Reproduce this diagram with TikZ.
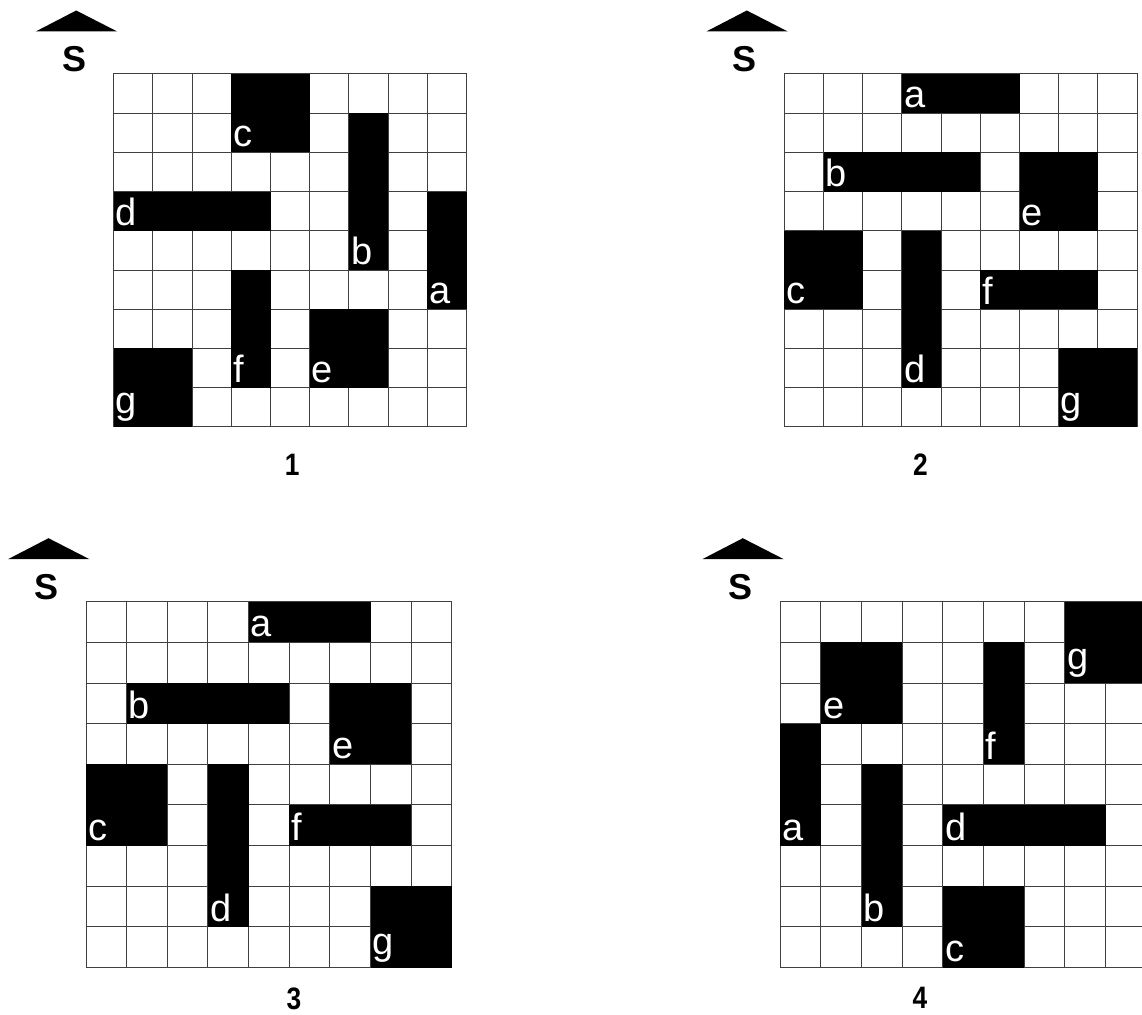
\documentclass[tikz,border=0pt]{standalone}
\usepackage{fontspec}
\setmainfont{Liberation Sans}

\begin{document}
\begin{tikzpicture}[
		x=1pt, y=-1pt,
		% Style for the cell lines and the blocked cells
		cellgrid/.style={draw=black!75, line width=1pt, line cap=rect},
		block/.style={fill=black},
		% Letter in the lower left cell of a block
		blockTag/.style={anchor=south west, inner sep=0pt, xshift=2pt, yshift=5pt,
			text=white, font=\fontsize{38}{38}\selectfont},
		% Direction mark above each grid
		pointer/.style={fill=black},
		dirLabel/.style={font=\bfseries\fontsize{36}{36}\selectfont, inner sep=0pt},
		panelNum/.style={font=\bfseries\fontsize{31}{31}\selectfont, xscale=0.85, inner sep=0pt}
		]
		\useasboundingbox (0,0) rectangle (1142,1014);

		% GRID 1
		\begin{scope}[shift={(113.7,74)}, x=39.2pt, y=-39.2pt]
			\fill[pointer] (-78pt,42.5pt) -- (-37.5pt,63.5pt) -- (3.5pt,42.5pt) -- cycle;
			\node[dirLabel] (s1) at (-39.5pt,15pt) {S};
			\foreach \k in {0,...,9} {
				\draw[cellgrid] (\k,0) -- (\k,9);
				\draw[cellgrid] (0,\k) -- (9,\k);
			}
			\foreach \cx/\ry/\bw/\bh/\lbl in {4/2/2/2/c, 7/5/1/4/b, 1/4/4/1/d, 9/6/1/3/a,
				4/8/1/3/f, 6/8/2/2/e, 1/9/2/2/g} {
				\fill[block] (\cx-1,\ry) rectangle ++(\bw,-\bh);
				\node[blockTag] (g1\lbl) at (\cx-1,\ry) {\lbl};
			}
		\end{scope}

		% GRID 2
		\begin{scope}[shift={(784.3,74)}, x=39.2pt, y=-39.2pt]
			\fill[pointer] (-78pt,42.5pt) -- (-37.5pt,63.5pt) -- (3.5pt,42.5pt) -- cycle;
			\node[dirLabel] (s2) at (-39.5pt,15pt) {S};
			\foreach \k in {0,...,9} {
				\draw[cellgrid] (\k,0) -- (\k,9);
				\draw[cellgrid] (0,\k) -- (9,\k);
			}
			\foreach \cx/\ry/\bw/\bh/\lbl in {4/1/3/1/a, 2/3/4/1/b, 7/4/2/2/e, 1/6/2/2/c,
				4/8/1/4/d, 6/6/3/1/f, 8/9/2/2/g} {
				\fill[block] (\cx-1,\ry) rectangle ++(\bw,-\bh);
				\node[blockTag] (g2\lbl) at (\cx-1,\ry) {\lbl};
			}
		\end{scope}

		% GRID 3
		\begin{scope}[shift={(86,601.7)}, x=40.65pt, y=-40.65pt]
			\fill[pointer] (-78pt,42.5pt) -- (-37.5pt,63.5pt) -- (3.5pt,42.5pt) -- cycle;
			\node[dirLabel] (s3) at (-39.5pt,15pt) {S};
			\foreach \k in {0,...,9} {
				\draw[cellgrid] (\k,0) -- (\k,9);
				\draw[cellgrid] (0,\k) -- (9,\k);
			}
			\foreach \cx/\ry/\bw/\bh/\lbl in {5/1/3/1/a, 2/3/4/1/b, 7/4/2/2/e, 1/6/2/2/c,
				4/8/1/4/d, 6/6/3/1/f, 8/9/2/2/g} {
				\fill[block] (\cx-1,\ry) rectangle ++(\bw,-\bh);
				\node[blockTag] (g3\lbl) at (\cx-1,\ry) {\lbl};
			}
		\end{scope}

		% GRID 4
		\begin{scope}[shift={(780.3,601.7)}, x=40.65pt, y=-40.65pt]
			\fill[pointer] (-78pt,42.5pt) -- (-37.5pt,63.5pt) -- (3.5pt,42.5pt) -- cycle;
			\node[dirLabel] (s4) at (-39.5pt,15pt) {S};
			\foreach \k in {0,...,9} {
				\draw[cellgrid] (\k,0) -- (\k,9);
				\draw[cellgrid] (0,\k) -- (9,\k);
			}
			\foreach \cx/\ry/\bw/\bh/\lbl in {8/2/2/2/g, 2/3/2/2/e, 6/4/1/3/f, 1/6/1/3/a,
				3/8/1/4/b, 5/6/4/1/d, 5/9/2/2/c} {
				\fill[block] (\cx-1,\ry) rectangle ++(\bw,-\bh);
				\node[blockTag] (g4\lbl) at (\cx-1,\ry) {\lbl};
			}
		\end{scope}

		% Panel numbers
		\node[panelNum] (n1) at (292.3,465) {1};
		\node[panelNum] (n2) at (920.5,465) {2};
		\node[panelNum] (n3) at (294,999) {3};
		\node[panelNum] (n4) at (920,998) {4};
	\end{tikzpicture}
\end{document}
